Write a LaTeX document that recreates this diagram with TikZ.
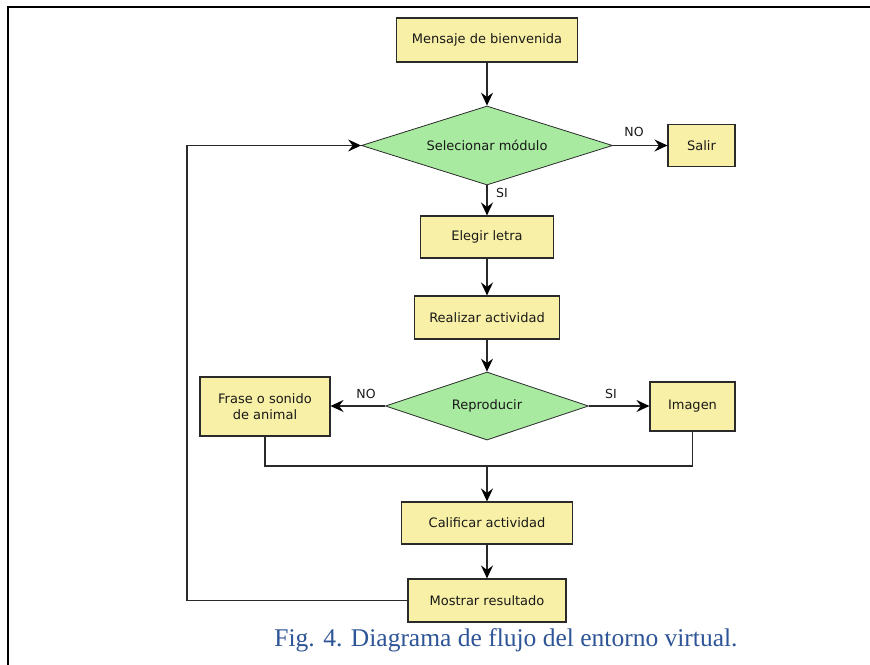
\documentclass[tikz,border=0pt]{standalone}
\usepackage{fontspec}
\setmainfont{Liberation Serif}
\setsansfont{DejaVu Sans}
\usetikzlibrary{shapes.geometric,arrows.meta}
\definecolor{boxfill}{HTML}{F8F0A6}
\definecolor{diafill}{HTML}{A8EBA0}
\definecolor{linec}{HTML}{2A2A2A}
\definecolor{capblue}{HTML}{2E5597}
\tikzset{
  procbox/.style={draw=linec, line width=1.1pt, fill=boxfill, inner sep=0pt, font=\sffamily\fontsize{13}{16.5}\selectfont, text=black!90, align=center},
  decision/.style={diamond, draw=linec, line width=0.8pt, fill=diafill, inner sep=0pt, font=\sffamily\fontsize{13}{16}\selectfont, text=black!90},
  flow/.style={draw=linec, line width=1.2pt, -{Stealth[length=13pt,width=12pt,inset=4.5pt,color=black]}},
  plain/.style={draw=linec, line width=1.2pt},
  lab/.style={font=\sffamily\fontsize{12.5}{14}\selectfont, text=black!90, inner sep=0pt}
}
\begin{document}
\begin{tikzpicture}[x=1pt,y=-1pt]
\useasboundingbox (0,0) rectangle (870,664);
\draw[line width=2pt] (8,680) -- (8,7) -- (872,7);

\node[procbox, minimum width=181pt, minimum height=44pt] (msg) at (487,40) {Mensaje de bienvenida};
\node[decision, aspect=3.18, minimum width=251pt, minimum height=79pt] (sel) at (487,145.5) {Selecionar módulo};
\node[procbox, minimum width=67pt, minimum height=42pt] (salir) at (701.5,145.5) {Salir};
\node[procbox, minimum width=133pt, minimum height=42pt] (eleg) at (487,237) {Elegir letra};
\node[procbox, minimum width=145pt, minimum height=43pt] (real) at (487,317.5) {Realizar actividad};
\node[decision, aspect=2.99, minimum width=203pt, minimum height=68pt] (rep) at (487,406) {Reproducir};
\node[procbox, minimum width=130pt, minimum height=59pt] (frase) at (265,406.5) {Frase o sonido\\de animal};
\node[procbox, minimum width=85pt, minimum height=49pt] (img) at (692.5,406.5) {Imagen};
\node[procbox, minimum width=171pt, minimum height=42pt] (cal) at (487,523) {Calificar actividad};
\node[procbox, minimum width=158pt, minimum height=43pt] (most) at (487,600.5) {Mostrar resultado};

\coordinate (merge) at (487,466);
\coordinate (loopb) at (187,600.5);
\coordinate (loopt) at (187,145.5);

\draw[flow] (msg) -- (sel);
\draw[flow] (sel.east) -- (salir.west);
\draw[flow] (sel.south) -- (eleg.north);
\draw[flow] (eleg) -- (real);
\draw[flow] (real.south) -- (rep.north);
\draw[flow] (rep.west) -- (rep.west -| frase.east);
\draw[flow] (rep.east) -- (rep.east -| img.west);
\draw[plain] (frase.south) |- (merge) -| (img.south);
\draw[flow] (merge) -- (cal.north);
\draw[flow] (cal) -- (most);
\draw[flow] (most.west) -- (loopb) -- (loopt) -- (sel.west);

\node[lab] (no1) at (634,132) {NO};
\node[lab] (si1) at (502,193) {SI};
\node[lab] (no2) at (366,394) {NO};
\node[lab] (si2) at (611,394) {SI};

\node[text=capblue, font=\fontsize{25.5}{28}\selectfont, inner sep=0pt] (cap) at (506,640) {Fig. 4. Diagrama de flujo del entorno virtual.};
\end{tikzpicture}
\end{document}
